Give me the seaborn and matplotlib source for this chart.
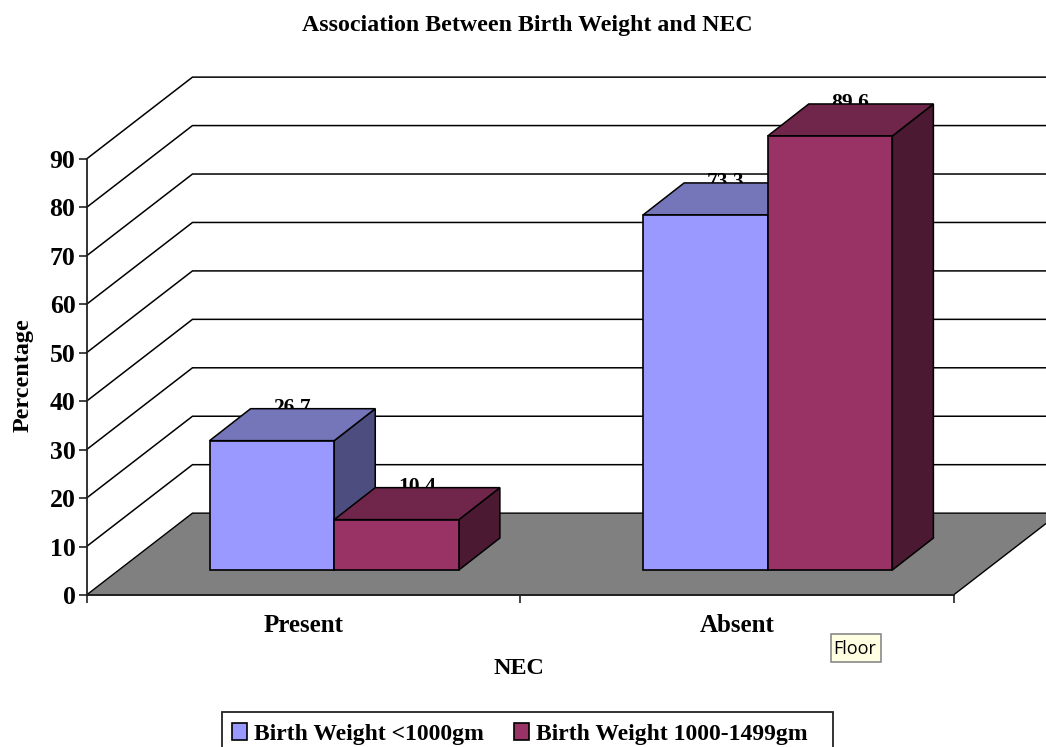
import matplotlib
matplotlib.use("Agg")
import matplotlib.pyplot as plt
from matplotlib.patches import Rectangle
import pandas as pd
import seaborn as sns

# Chart content
categories = ["Present", "Absent"]
groups = ["Birth Weight <1000gm", "Birth Weight 1000-1499gm"]
low_weight_pct = [26.7, 73.3]
higher_weight_pct = [10.4, 89.6]
y_ticks = [0, 10, 20, 30, 40, 50, 60, 70, 80, 90]

# Colours for each series: front, top and side faces of the boxes
FACES = [("#9999FF", "#7575BA", "#4D4D80"), ("#993366", "#70264A", "#4C1933")]
FLOOR = "#808080"

# Oblique projection, in data units (x: categories, y: percent)
WALL_DX, WALL_DY = 0.2445, 16.9     # offset of the back wall from the axis plane
BAR_DX, BAR_DY = 0.0715, 5.16       # offset of the bar fronts from the axis plane
DEPTH_DX, DEPTH_DY = 0.0946, 6.6    # depth of each box

sns.set_theme(style="white")
plt.rcParams["font.family"] = ["Liberation Serif", "DejaVu Serif"]
plt.rcParams["font.weight"] = "bold"
plt.rcParams["text.color"] = "black"
plt.rcParams["xtick.color"] = "black"
plt.rcParams["ytick.color"] = "black"

W, H = 1046, 747
fig = plt.figure(figsize=(W / 100, H / 100), dpi=100, facecolor="white")
ax = fig.add_axes([86.5 / W, (H - 595) / H, 867 / W, 436 / H], facecolor="none")

table = pd.DataFrame({
    "NEC": categories * 2,
    "Birth weight": [groups[0]] * 2 + [groups[1]] * 2,
    "Percentage": low_weight_pct + higher_weight_pct,
})
sns.barplot(
    data=table, x="NEC", y="Percentage", hue="Birth weight",
    order=categories, hue_order=groups, palette=[f[0] for f in FACES],
    width=0.575, gap=0, edgecolor="black", linewidth=1.2, saturation=1, ax=ax,
)
ax.set_xlim(-0.5, 1.5)
ax.set_ylim(0, 90)

# Floor and back walls
x0, x1 = ax.get_xlim()
ax.fill([x0, x0 + WALL_DX, x1 + WALL_DX, x1], [0, WALL_DY, WALL_DY, 0],
        facecolor=FLOOR, edgecolor="black", linewidth=1.0, clip_on=False, zorder=1)
for tick in y_ticks[1:]:
    ax.plot([x0, x0 + WALL_DX, x1 + WALL_DX], [tick, tick + WALL_DY, tick + WALL_DY],
            color="black", linewidth=1.1, clip_on=False, zorder=1.5)

# Turn each flat bar into a box, drawn left to right so nearer faces overlap
bars = []
for series, container in enumerate(ax.containers):
    for bar in container:
        bars.append((bar.get_x(), series, bar))
z = 3.0
for _, series, bar in sorted(bars, key=lambda item: item[0]):
    front, top, side = FACES[series]
    value = bar.get_height()
    bar.set_x(bar.get_x() + BAR_DX)
    bar.set_y(BAR_DY)
    bar.set_clip_on(False)
    left, right = bar.get_x(), bar.get_x() + bar.get_width()
    base, roof = BAR_DY, BAR_DY + value
    ax.text((left + right) / 2 + DEPTH_DX / 2, roof + DEPTH_DY - 0.8, f"{value:.1f}",
            ha="center", va="baseline", fontsize=15.5, color="black", zorder=2)
    ax.fill([right, right + DEPTH_DX, right + DEPTH_DX, right],
            [base, base + DEPTH_DY, roof + DEPTH_DY, roof],
            facecolor=side, edgecolor="black", linewidth=1.1, clip_on=False, zorder=z)
    ax.fill([left, left + DEPTH_DX, right + DEPTH_DX, right],
            [roof, roof + DEPTH_DY, roof + DEPTH_DY, roof],
            facecolor=top, edgecolor="black", linewidth=1.1, clip_on=False, zorder=z + 0.1)
    bar.set_zorder(z + 0.2)
    z += 1

# Axes
sns.despine(ax=ax)
for name in ("left", "bottom"):
    ax.spines[name].set_color("#222222")
    ax.spines[name].set_linewidth(1.3)
    ax.spines[name].set_zorder(2.5)
ax.set_yticks(y_ticks)
ax.set_xticks([-0.5, 0.5, 1.5], labels=[])
ax.set_xticks([0, 1], labels=categories, minor=True)
ax.tick_params(axis="both", which="major", length=6, width=1.2, color="#222222",
               left=True, bottom=True, labelsize=18.5, pad=2)
ax.tick_params(axis="x", which="minor", length=0, labelsize=18, pad=14, bottom=False)
ax.set_xlabel("")
ax.set_ylabel("")

fig.text(527 / W, 1 - 26 / H, "Association Between Birth Weight and NEC",
         ha="center", va="center", fontsize=17.2)
fig.text(519 / W, 1 - 668 / H, "NEC", ha="center", va="center", fontsize=17.4)
fig.text(23.5 / W, 1 - 375 / H, "Percentage", ha="center", va="center", rotation=90,
         fontsize=17.4)

# Legend box, running off the bottom edge of the figure
fig.add_artist(Rectangle((222 / W, 1 - 762 / H), 611 / W, 50 / H, transform=fig.transFigure,
                         facecolor="white", edgecolor="#222222", linewidth=1.3))
handles, labels = ax.get_legend_handles_labels()
ax.get_legend().remove()
legend = fig.legend(
    handles, labels, ncol=2, loc="center", bbox_to_anchor=(520 / W, 1 - 734 / H),
    frameon=False, fontsize=17,
    handlelength=0.64, handleheight=0.75, handletextpad=0.3, columnspacing=1.26,
    borderpad=0, borderaxespad=0,
)
legend.set_zorder(5)

# Hover tip on the floor
fig.add_artist(Rectangle((831 / W, 1 - 662 / H), 50 / W, 28 / H, transform=fig.transFigure,
                         facecolor="#FFFFE1", edgecolor="#8A8A8A", linewidth=1.2))
fig.text(854.5 / W, 1 - 649 / H, "Floor", ha="center", va="center", fontsize=13,
         family=["Open Sans", "DejaVu Sans"], weight="normal", color="black")

fig.savefig("out.png", dpi=100, facecolor="white")
